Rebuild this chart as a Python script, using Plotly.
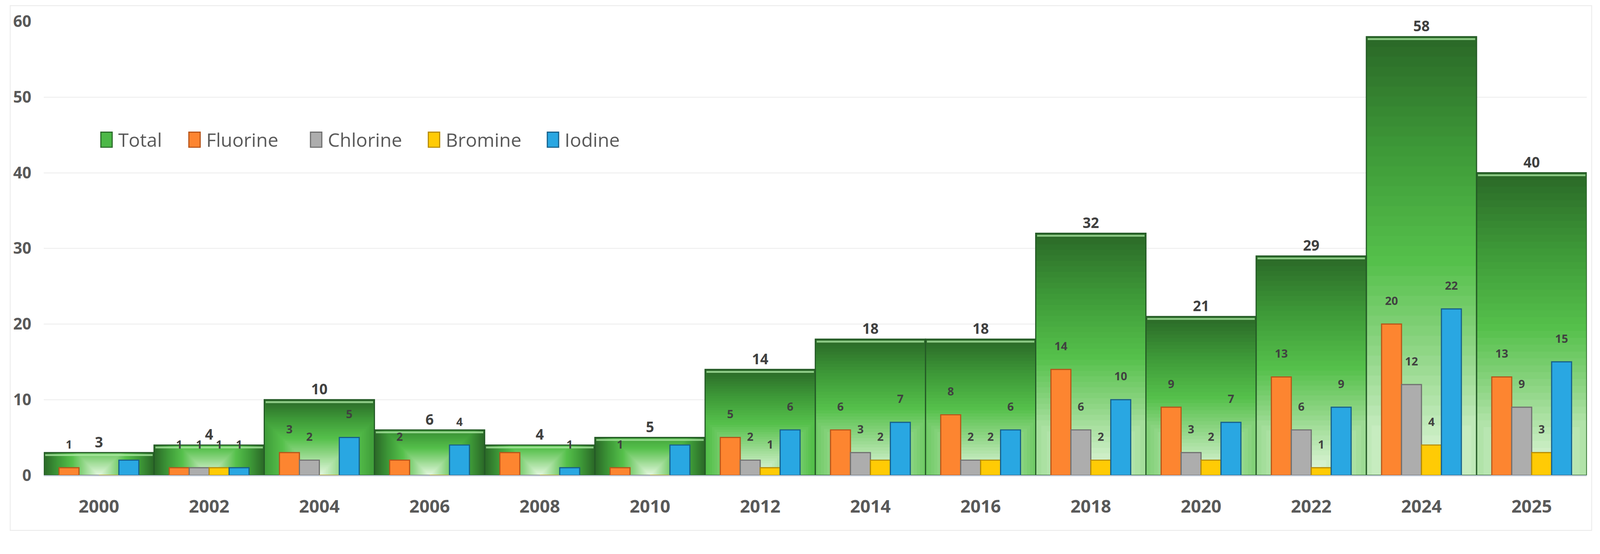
import plotly.graph_objects as go

# ---------------- data ----------------
years = ["2000", "2002", "2004", "2006", "2008", "2010", "2012", "2014",
         "2016", "2018", "2020", "2022", "2024", "2025"]
total = [3, 4, 10, 6, 4, 5, 14, 18, 18, 32, 21, 29, 58, 40]
fluorine = [1, 1, 3, 2, 3, 1, 5, 6, 8, 14, 9, 13, 20, 13]
chlorine = [0, 1, 2, 0, 0, 0, 2, 3, 2, 6, 3, 6, 12, 9]
bromine = [0, 1, 0, 0, 0, 0, 1, 2, 2, 2, 2, 1, 4, 3]
iodine = [2, 1, 5, 4, 1, 4, 6, 7, 6, 10, 7, 9, 22, 15]
legend_names = ["Total", "Fluorine", "Chlorine", "Bromine", "Iodine"]
# data labels that the original chart leaves out: (series, year)
unlabeled = {("Iodine", "2000"), ("Fluorine", "2008"), ("Iodine", "2010")}

# ---------------- geometry / style ----------------
W, H = 4236, 1419
ML, MR, MT, MB = 116, 35, 57, 160
YMAX = 60
plot_w = W - ML - MR
plot_h = H - MT - MB
px_per_cat = plot_w / len(years)
px_per_unit = plot_h / YMAX

FONT = "Open Sans"
TXT = "#404040"
AXIS_TXT = "#595959"

def hex2rgb(h):
    h = h.lstrip("#")
    return tuple(int(h[i:i + 2], 16) for i in (0, 2, 4))

stops = [(0.0, "#e8f8e4"), (0.12, "#c4ebbd"), (0.3, "#8ed584"),
         (0.5, "#55c04b"), (0.75, "#3e9a38"), (1.0, "#2b6a28")]

def grad(t):
    for (t0, c0), (t1, c1) in zip(stops[:-1], stops[1:]):
        if t <= t1:
            f = (t - t0) / (t1 - t0) if t1 > t0 else 0
            a, b = hex2rgb(c0), hex2rgb(c1)
            return "rgb(%d,%d,%d)" % tuple(round(a[i] + (b[i] - a[i]) * f) for i in range(3))
    return stops[-1][1]

fig = go.Figure()

# ----- Total bars: path gradient from bottom centre, drawn as nested layers -----
N = 44
half_w_px = px_per_cat / 2
for k in range(N):
    t = 1 - k / N
    widths, heights, offs = [], [], []
    for v in total:
        h_px = v * px_per_unit
        R = max(half_w_px, h_px)
        hw = min(half_w_px, t * R)
        hh = min(h_px, t * R)
        widths.append(2 * hw / px_per_cat)
        offs.append(-hw / px_per_cat)
        heights.append(hh / px_per_unit)
    fig.add_trace(go.Bar(
        x=years, y=heights, width=widths, offset=offs,
        name="Total", showlegend=False,
        marker=dict(color=grad(t), line=dict(width=0)),
        hoverinfo="skip",
    ))

# light bevel strip just under the top edge of each Total bar
strip_gap = 9 / px_per_unit
strip_h = 5 / px_per_unit
fig.add_trace(go.Bar(
    x=years, y=[strip_h] * len(total), base=[v - strip_gap for v in total],
    width=0.975, offset=-0.4875, showlegend=False, hoverinfo="skip",
    marker=dict(color="rgba(175,235,165,0.75)", line=dict(width=0)),
))
# outline + value label of the Total bars
fig.add_trace(go.Bar(
    x=years, y=total, width=1, offset=-0.5, showlegend=False, name="Total",
    marker=dict(color="rgba(0,0,0,0)", line=dict(color="#245a26", width=3)),
    text=[str(v) for v in total], textposition="outside",
    textfont=dict(family=FONT, size=38, color=TXT, weight="bold"),
    cliponaxis=False,
))

# ----- element series -----
series = [("Fluorine", fluorine, "#fd8530", "#b8551a"),
          ("Chlorine", chlorine, "#adadad", "#707070"),
          ("Bromine", bromine, "#ffcb05", "#b88c00"),
          ("Iodine", iodine, "#29a7e2", "#17608a")]
bw = 0.181
start = -2 * bw
for i, (name, vals, col, edge) in enumerate(series):
    labels = []
    for y, v in zip(years, vals):
        if v == 0 or (name, y) in unlabeled:
            labels.append("")
        else:
            labels.append(f"{v}<br> ")
    fig.add_trace(go.Bar(
        x=years, y=vals, width=bw, offset=start + i * bw,
        name=name, showlegend=False,
        marker=dict(color=col, line=dict(color=edge, width=3)),
        text=labels, textposition="outside",
        textfont=dict(family=FONT, size=30, color=TXT, weight="bold"),
        cliponaxis=False,
    ))

# ----- legend (tall swatches like the original) -----
leg_colors = [("#4cb847", "#2a6a2a"), ("#fd8530", "#b8551a"), ("#adadad", "#6e6e6e"),
              ("#ffcb05", "#b88c00"), ("#29a7e2", "#17608a")]
leg_x_px = [267, 500, 822, 1134, 1449]      # left edge of each swatch
leg_y_px = 370                               # vertical centre of the legend row
sw_w, sw_h = 30, 40

def px_to_paper_x(px):
    return (px - ML) / plot_w

def px_to_paper_y(py):
    return (H - MB - py) / plot_h

shapes = [dict(type="rect", xref="paper", yref="paper",
               x0=px_to_paper_x(27), x1=px_to_paper_x(4214),
               y0=px_to_paper_y(1405), y1=px_to_paper_y(15),
               line=dict(color="#e8e8e8", width=2), layer="below")]
annotations = []
for name, (fill, edge), lx in zip(legend_names, leg_colors, leg_x_px):
    shapes.append(dict(type="rect", xref="paper", yref="paper",
                       x0=px_to_paper_x(lx), x1=px_to_paper_x(lx + sw_w),
                       y0=px_to_paper_y(leg_y_px + sw_h / 2),
                       y1=px_to_paper_y(leg_y_px - sw_h / 2),
                       fillcolor=fill, line=dict(color=edge, width=3)))
    annotations.append(dict(xref="paper", yref="paper",
                            x=px_to_paper_x(lx + sw_w + 14), y=px_to_paper_y(leg_y_px),
                            xanchor="left", yanchor="middle", showarrow=False,
                            text=name, font=dict(family=FONT, size=50, color=AXIS_TXT)))

fig.update_layout(
    width=W, height=H,
    margin=dict(l=ML, r=MR, t=MT, b=MB),
    paper_bgcolor="white", plot_bgcolor="white",
    barmode="overlay",
    font=dict(family=FONT, color=AXIS_TXT),
    showlegend=False,
    xaxis=dict(type="category", categoryorder="array", categoryarray=years,
               range=[-0.5, len(years) - 0.5],
               showgrid=False, showline=True, linecolor="#c5cedb", linewidth=3,
               ticks="", ticklabelstandoff=40,
               tickfont=dict(family=FONT, size=47, color=AXIS_TXT, weight="bold")),
    yaxis=dict(range=[0, YMAX], dtick=10, showgrid=True, gridcolor="#ececec",
               gridwidth=2, zeroline=False, showline=False, ticks="",
               ticklabelstandoff=32,
               tickfont=dict(family=FONT, size=42, color=AXIS_TXT, weight="bold")),
    shapes=shapes,
    annotations=annotations,
)

# fit the fixed-size figure into whatever viewport the browser really has
fit_js = (
    "document.documentElement.style.margin='0';"
    "document.body.style.margin='0';document.body.style.overflow='hidden';"
    "var d=document.getElementById('{plot_id}');"
    "var s=Math.min(window.innerWidth/%d, window.innerHeight/%d);"
    "d.style.transformOrigin='0 0';d.style.transform='scale('+s+')';" % (W, H)
)

fig.write_html("out.html", post_script=fit_js, config={"displayModeBar": False})
